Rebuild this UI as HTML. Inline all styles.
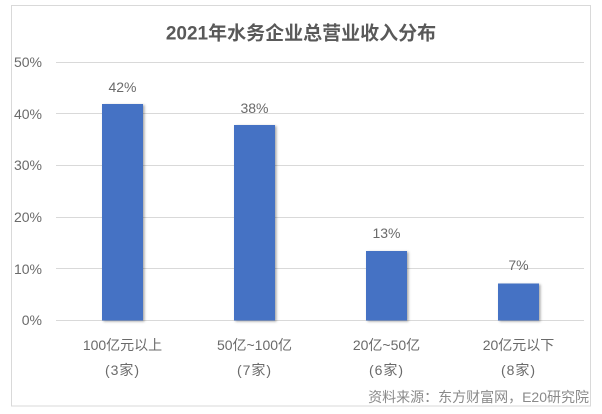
<!DOCTYPE html>
<html>
<head>
<meta charset="utf-8">
<style>
  html, body { margin: 0; padding: 0; background: #fff; }
  svg { display: block; }
  text { font-family: "Liberation Sans", "Noto Sans CJK SC", sans-serif; }
</style>
</head>
<body>
<svg width="602" height="414" viewBox="0 0 602 414" xmlns="http://www.w3.org/2000/svg">
  <defs>
    <filter id="sh" x="-20%" y="-20%" width="150%" height="150%">
      <feDropShadow dx="1.5" dy="1" stdDeviation="1.2" flood-color="#000" flood-opacity="0.35"/>
    </filter>
  </defs>
  <rect x="0" y="0" width="602" height="414" fill="#fff"/>
  <rect x="11.5" y="5.5" width="579" height="400.5" fill="#fff" stroke="#d9d9d9" stroke-width="1"/>

  <text x="301" y="34" text-anchor="middle" dominant-baseline="central" font-size="19" font-weight="bold" fill="#595959">2021年水务企业总营业收入分布</text>

  <!-- gridlines -->
  <g stroke="#d9d9d9" stroke-width="1">
    <line x1="56" x2="584" y1="62.5" y2="62.5"/>
    <line x1="56" x2="584" y1="113.5" y2="113.5"/>
    <line x1="56" x2="584" y1="165.5" y2="165.5"/>
    <line x1="56" x2="584" y1="217.5" y2="217.5"/>
    <line x1="56" x2="584" y1="268.5" y2="268.5"/>
    <line x1="56" x2="584" y1="320.5" y2="320.5"/>
  </g>

  <!-- y axis labels -->
  <g font-size="14" fill="#6a6a6a" text-anchor="end" dominant-baseline="central">
    <text x="42" y="62">50%</text>
    <text x="42" y="114">40%</text>
    <text x="42" y="165">30%</text>
    <text x="42" y="217">20%</text>
    <text x="42" y="269">10%</text>
    <text x="42" y="320">0%</text>
  </g>

  <!-- bars -->
  <g fill="#4472c4" filter="url(#sh)">
    <rect x="102" y="104" width="41" height="216.5"/>
    <rect x="234" y="125" width="41" height="195.5"/>
    <rect x="366" y="251" width="41" height="69.5"/>
    <rect x="498" y="283.5" width="41" height="37"/>
  </g>

  <!-- value labels -->
  <g font-size="14" fill="#6a6a6a" text-anchor="middle" dominant-baseline="central">
    <text x="122.5" y="87">42%</text>
    <text x="254.5" y="108">38%</text>
    <text x="386.5" y="233">13%</text>
    <text x="518.5" y="265">7%</text>
  </g>

  <!-- category labels -->
  <g font-size="14" fill="#6a6a6a" text-anchor="middle" dominant-baseline="central">
    <text x="122.5" y="345">100亿元以上</text>
    <text x="122.5" y="370" letter-spacing="1">(3家)</text>
    <text x="254.5" y="345">50亿~100亿</text>
    <text x="254.5" y="370" letter-spacing="1">(7家)</text>
    <text x="386.5" y="345">20亿~50亿</text>
    <text x="386.5" y="370" letter-spacing="1">(6家)</text>
    <text x="518.5" y="345">20亿元以下</text>
    <text x="518.5" y="370" letter-spacing="1">(8家)</text>
  </g>

  <text x="589" y="397" text-anchor="end" dominant-baseline="central" font-size="14" fill="#8a8a8a">资料来源：东方财富网，E20研究院</text>
</svg>
</body>
</html>
